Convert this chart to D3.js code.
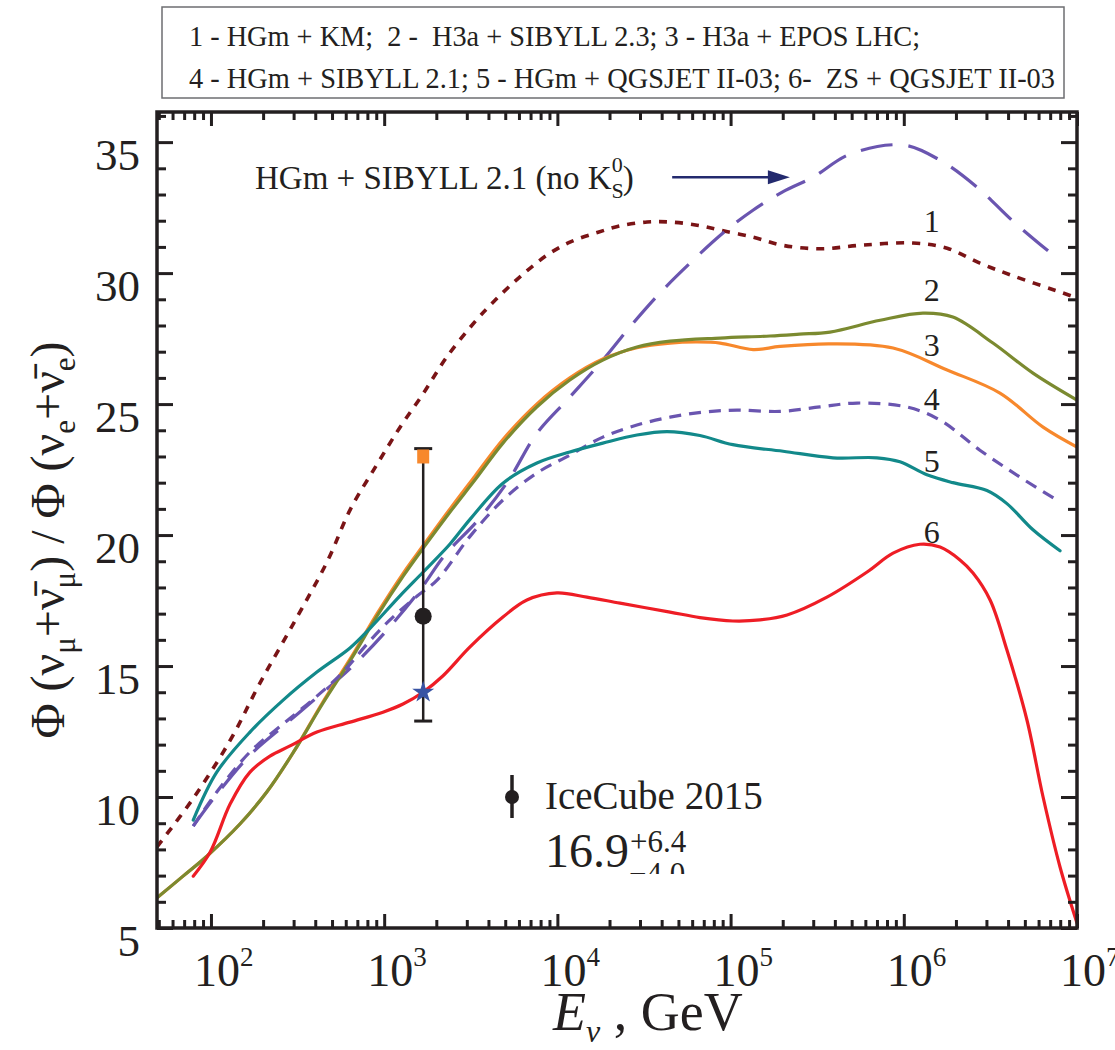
<!DOCTYPE html>
<html><head><meta charset="utf-8">
<script src="https://cdn.jsdelivr.net/npm/d3@7"></script>
<style>body{margin:0;background:#fff} text{font-family:"Liberation Serif","Times New Roman",serif;fill:#231f20}</style></head>
<body><svg id="c" width="1115" height="1050"></svg>
<script>
// ---------- DATA ----------
const legendLines = ["1 - HGm + KM;  2 -  H3a + SIBYLL 2.3; 3 - H3a + EPOS LHC;",
                     "4 - HGm + SIBYLL 2.1; 5 - HGm + QGSJET II-03; 6-  ZS + QGSJET II-03"];
const xTickExponents = [2, 3, 4, 5, 6, 7];
const yTickLabels = [5, 10, 15, 20, 25, 30, 35];

// 1 - HGm + KM
const E1 = [48.8, 80, 130, 190, 310, 470, 640, 910, 1230, 1680, 2300, 3400, 4200, 5500, 7000, 9000, 12000, 17000, 23000, 33000, 45000, 64000, 87000, 135000, 200000, 330000, 580000, 1130000, 1780000, 2750000, 4300000, 8300000, 10000000];
const V1 = [8.1, 10.0, 12.2, 14.3, 16.8, 19.0, 21.0, 22.7, 24.1, 25.4, 26.8, 28.2, 28.85, 29.6, 30.2, 30.75, 31.2, 31.55, 31.8, 31.95, 31.95, 31.83, 31.64, 31.37, 31.06, 30.93, 31.07, 31.15, 30.95, 30.38, 29.89, 29.24, 29.05];
// 2 - H3a + SIBYLL 2.3
const E2 = [48.8, 69, 95, 147, 210, 300, 440, 640, 910, 1290, 1680, 2400, 3340, 4850, 7600, 11800, 18300, 28800, 44700, 87000, 169000, 250000, 375000, 730000, 1290000, 1920000, 3270000, 5570000, 10000000];
const V2 = [6.15, 6.98, 7.75, 8.97, 10.19, 11.72, 13.55, 15.23, 16.91, 18.44, 19.5, 20.88, 22.1, 23.51, 24.89, 25.92, 26.68, 27.18, 27.4, 27.52, 27.6, 27.67, 27.75, 28.2, 28.47, 28.32, 27.33, 26.18, 25.15];
// 3 - H3a + EPOS LHC
const E3 = [48.8, 69, 95, 147, 210, 300, 440, 640, 910, 1290, 1680, 2400, 3340, 4850, 7600, 11800, 18300, 28800, 44700, 64000, 87000, 135000, 193000, 375000, 867000, 1780000, 3590000, 6370000, 10000000];
const V3 = [6.15, 6.98, 7.75, 8.97, 10.19, 11.72, 13.6, 15.3, 17.0, 18.55, 19.6, 21.0, 22.25, 23.65, 25.0, 26.0, 26.72, 27.15, 27.33, 27.37, 27.33, 27.08, 27.2, 27.3, 27.14, 26.3, 25.42, 24.12, 23.36];
// 4 - HGm + SIBYLL 2.1
const E4 = [79, 108, 168, 261, 409, 578, 796, 1080, 1550, 2020, 3130, 4850, 7620, 11800, 18300, 28800, 44700, 69300, 109000, 193000, 328000, 537000, 1040000, 1620000, 2750000, 4690000, 7980000];
const V4 = [8.89, 10.19, 11.72, 12.79, 13.85, 14.77, 15.84, 16.76, 17.67, 18.28, 19.95, 21.34, 22.37, 23.05, 23.74, 24.2, 24.5, 24.69, 24.77, 24.72, 24.89, 25.04, 24.89, 24.39, 23.24, 22.21, 21.26];
// 5 - HGm + QGSJET II-03
const E5 = [79, 108, 168, 261, 409, 635, 831, 1230, 1680, 2400, 3130, 4850, 7620, 11800, 18300, 28800, 43000, 66500, 103000, 201000, 390000, 700000, 950000, 1360000, 1920000, 3020000, 3940000, 5570000, 7980000];
const V5 = [9.12, 10.95, 12.48, 13.7, 14.77, 15.69, 16.45, 17.67, 18.59, 19.66, 20.6, 21.98, 22.75, 23.17, 23.51, 23.82, 23.95, 23.8, 23.45, 23.2, 22.95, 22.95, 22.8, 22.3, 22.0, 21.7, 21.2, 20.2, 19.4];
// 6 - ZS + QGSJET II-03
const E6 = [79, 99, 129, 168, 219, 286, 409, 635, 984, 1285, 1675, 2180, 3130, 4850, 6670, 9940, 14800, 23000, 44700, 66500, 103000, 148000, 212000, 360000, 614000, 867000, 1240000, 1620000, 2110000, 2510000, 3150000, 3940000, 5140000, 6370000, 7980000, 10000000];
const V6 = [6.98, 7.9, 9.73, 10.95, 11.56, 11.95, 12.48, 12.86, 13.24, 13.55, 14.0, 14.62, 15.73, 16.87, 17.52, 17.79, 17.63, 17.4, 17.06, 16.85, 16.72, 16.76, 16.95, 17.63, 18.59, 19.31, 19.65, 19.54, 19.05, 18.55, 17.52, 15.61, 12.94, 10.0, 7.33, 5.19];
// HGm + SIBYLL 2.1 (no K_S^0)
const E7 = [79, 108, 168, 261, 409, 635, 984, 1610, 2245, 3480, 5190, 7620, 11800, 18300, 26200, 39100, 58300, 90400, 134600, 200000, 299000, 489000, 989000, 1620000, 2650000, 4270000, 7660000];
const V7 = [8.89, 10.1, 11.6, 12.7, 13.8, 14.9, 16.2, 17.9, 19.24, 20.57, 22.06, 23.89, 25.27, 26.68, 27.94, 29.24, 30.38, 31.53, 32.4, 33.1, 33.66, 34.54, 34.89, 34.31, 33.28, 31.98, 30.57];

// IceCube 2015 point
const iceE = [1680], iceV = [16.9], icePlus = [6.4], iceMinus = [4.0];
const squareV = [23.0];   // orange square
const starV = [14.0];     // blue star

const curveLabels = ["1", "2", "3", "4", "5", "6"];
const curveLabelV = [31.98, 29.35, 27.25, 25.19, 22.82, 20.11];
const curveLabelE = 1.45e6;

// ---------- SCALES ----------
const svg = d3.select("#c");
const L = 157, R = 1077, T = 112, B = 928;
const x = d3.scaleLog().domain([48.8, 1e7]).range([L, R]);
const y = d3.scaleLinear().domain([5, 36.15]).range([B, T]);

// legend box
svg.append("rect").attr("x", 162).attr("y", 7).attr("width", 902).attr("height", 91)
  .attr("fill", "none").attr("stroke", "#6d6e71").attr("stroke-width", 1.5);
legendLines.forEach((t, i) => {
  svg.append("text").attr("x", 189).attr("y", 46 + i * 42).attr("font-size", 29)
    .style("white-space", "pre").attr("textLength", i ? 866 : 731).attr("lengthAdjust", "spacingAndGlyphs").text(t);
});

// clip
svg.append("defs").append("clipPath").attr("id", "pc").append("rect")
  .attr("x", L).attr("y", T).attr("width", R - L).attr("height", B - T);
svg.append("defs").append("clipPath").attr("id", "sc").append("rect")
  .attr("x", 600).attr("y", 820).attr("width", 120).attr("height", 54);

// series
const series = [
  {E: E1, V: V1, color: "#7a1416", dash: "8,8", w: 3.6},
  {E: E7, V: V7, color: "#6a55b0", dash: "32,16", w: 3.2},
  {E: E3, V: V3, color: "#f7882c", dash: null, w: 3.2},
  {E: E2, V: V2, color: "#7b8a30", dash: null, w: 3.2},
  {E: E4, V: V4, color: "#6a55b0", dash: "12,8", w: 3.2},
  {E: E5, V: V5, color: "#12898a", dash: null, w: 3.2},
  {E: E6, V: V6, color: "#ee1d25", dash: null, w: 3.2}
];
const line = d3.line().x(d => x(d[0])).y(d => y(d[1])).curve(d3.curveCatmullRom.alpha(0.5));
const gCurves = svg.append("g").attr("clip-path", "url(#pc)");
series.forEach(s => {
  gCurves.append("path").datum(d3.zip(s.E, s.V)).attr("d", line)
    .attr("fill", "none").attr("stroke", s.color).attr("stroke-width", s.w)
    .attr("stroke-dasharray", s.dash).attr("stroke-linecap", s.dash ? "butt" : "round");
});

// error bar + markers
const ex = x(iceE[0]);
svg.append("line").attr("x1", ex).attr("x2", ex).attr("y1", y(iceV[0] + icePlus[0])).attr("y2", y(iceV[0] - iceMinus[0]))
  .attr("stroke", "#231f20").attr("stroke-width", 2.5);
[iceV[0] + icePlus[0], iceV[0] - iceMinus[0]].forEach(v => {
  svg.append("line").attr("x1", ex - 9).attr("x2", ex + 9).attr("y1", y(v)).attr("y2", y(v))
    .attr("stroke", "#231f20").attr("stroke-width", 3);
});
svg.append("rect").attr("x", ex - 6).attr("y", y(squareV[0]) - 7).attr("width", 12).attr("height", 14).attr("fill", "#f7882c");
svg.append("circle").attr("cx", ex).attr("cy", y(iceV[0])).attr("r", 8.5).attr("fill", "#231f20");
svg.append("path").attr("d", d3.symbol(d3.symbolStar, 150)()).attr("transform", `translate(${ex},${y(starV[0])})`).attr("fill", "#3853a4");

// frame ticks
const xMajor = xTickExponents.map(e => Math.pow(10, e));
const xMinor = [];
for (let d = 1; d <= 6; d++) for (let k = 2; k <= 9; k++) { const v = k * Math.pow(10, d); if (v >= 48.8 && v <= 1e7) xMinor.push(v); }
const yMajor = yTickLabels;
const yMinor = d3.range(6, 37).filter(v => v % 5 !== 0);
function styleAxis(g) { g.select(".domain").remove(); g.selectAll("line").attr("stroke", "#231f20").attr("stroke-width", 3); }
svg.append("g").attr("transform", `translate(0,${B})`).call(d3.axisBottom(x).tickValues(xMajor).tickSize(-14).tickFormat("")).call(styleAxis);
svg.append("g").attr("transform", `translate(0,${B})`).call(d3.axisBottom(x).tickValues(xMinor).tickSize(-8).tickFormat("")).call(styleAxis);
svg.append("g").attr("transform", `translate(0,${T})`).call(d3.axisTop(x).tickValues(xMajor).tickSize(-14).tickFormat("")).call(styleAxis);
svg.append("g").attr("transform", `translate(0,${T})`).call(d3.axisTop(x).tickValues(xMinor).tickSize(-8).tickFormat("")).call(styleAxis);
svg.append("g").attr("transform", `translate(${L},0)`).call(d3.axisLeft(y).tickValues(yMajor).tickSize(-16).tickFormat("")).call(styleAxis);
svg.append("g").attr("transform", `translate(${L},0)`).call(d3.axisLeft(y).tickValues(yMinor).tickSize(-9).tickFormat("")).call(styleAxis);
svg.append("g").attr("transform", `translate(${R},0)`).call(d3.axisRight(y).tickValues(yMajor).tickSize(-16).tickFormat("")).call(styleAxis);
svg.append("g").attr("transform", `translate(${R},0)`).call(d3.axisRight(y).tickValues(yMinor).tickSize(-9).tickFormat("")).call(styleAxis);
svg.append("rect").attr("x", L).attr("y", T).attr("width", R - L).attr("height", B - T)
  .attr("fill", "none").attr("stroke", "#231f20").attr("stroke-width", 3.5);

// tick labels
xTickExponents.forEach(e => {
  const t = svg.append("text").attr("x", x(Math.pow(10, e)) - 17).attr("y", 986).attr("font-size", 46);
  t.append("tspan").text("10");
  t.append("tspan").attr("font-size", 27).attr("dy", -20).text(e);
});
yTickLabels.forEach(v => {
  svg.append("text").attr("x", 140).attr("y", y(v) + 28).attr("text-anchor", "end").attr("font-size", 45).text(v);
});

// axis titles
const xt = svg.append("text").attr("x", 553).attr("y", 1030).attr("font-size", 54);
xt.append("tspan").attr("font-style", "italic").text("E");
xt.append("tspan").attr("font-style", "italic").attr("font-size", 32).attr("dy", 12).text("ν");
xt.append("tspan").attr("dy", -12).style("white-space", "pre").text(" , GeV");

const yt = svg.append("text").attr("transform", "translate(64,540) rotate(-90)").attr("text-anchor", "middle").attr("font-size", 48).style("white-space", "pre");
const parts = [["Φ (ν", 0], ["μ", 1], ["+", 0], ["ν\u0304", 0], ["μ", 1], [") / Φ (ν", 0], ["e", 1], ["+", 0], ["ν\u0304", 0], ["e", 1], [")", 0]];
let prevSub = 0;
parts.forEach(([txt, sub]) => {
  const ts = yt.append("tspan").text(txt);
  if (sub) ts.attr("font-size", 31);
  const dy = (sub ? 11 : 0) - (prevSub ? 11 : 0);
  if (dy) ts.attr("dy", dy);
  prevSub = sub;
});

// curve number labels
curveLabels.forEach((t, i) => {
  svg.append("text").attr("x", x(curveLabelE)).attr("y", y(curveLabelV[i]) + 11).attr("text-anchor", "middle").attr("font-size", 32).text(t);
});

// annotation
const an = svg.append("text").attr("x", 255).attr("y", 189).attr("font-size", 33);
an.append("tspan").text("HGm + SIBYLL 2.1 (no K");
an.append("tspan").attr("font-size", 22).attr("dy", 9).text("S");
an.append("tspan").attr("font-size", 22).attr("dx", -12).attr("dy", -26).text("0");
an.append("tspan").attr("dy", 17).text(")");
const ay = y(33.66), ax1 = x(46000), ax2 = x(220000);
svg.append("line").attr("x1", ax1).attr("x2", ax2 - 18).attr("y1", ay).attr("y2", ay).attr("stroke", "#232a6e").attr("stroke-width", 2.5);
svg.append("path").attr("d", `M${ax2},${ay} L${ax2 - 22},${ay - 7} L${ax2 - 22},${ay + 7} Z`).attr("fill", "#232a6e");

// IceCube legend
svg.append("line").attr("x1", 512).attr("x2", 512).attr("y1", 775).attr("y2", 818).attr("stroke", "#231f20").attr("stroke-width", 3.5);
svg.append("circle").attr("cx", 512).attr("cy", 797).attr("r", 7).attr("fill", "#231f20");
svg.append("text").attr("x", 545).attr("y", 809).attr("font-size", 39).text("IceCube 2015");
svg.append("text").attr("x", 545).attr("y", 867).attr("font-size", 48).text("16.9");
svg.append("text").attr("x", 630).attr("y", 852).attr("font-size", 31).text("+6.4");
svg.append("text").attr("x", 629).attr("y", 884).attr("font-size", 31).attr("clip-path", "url(#sc)").text("−4.0");
</script></body></html>
